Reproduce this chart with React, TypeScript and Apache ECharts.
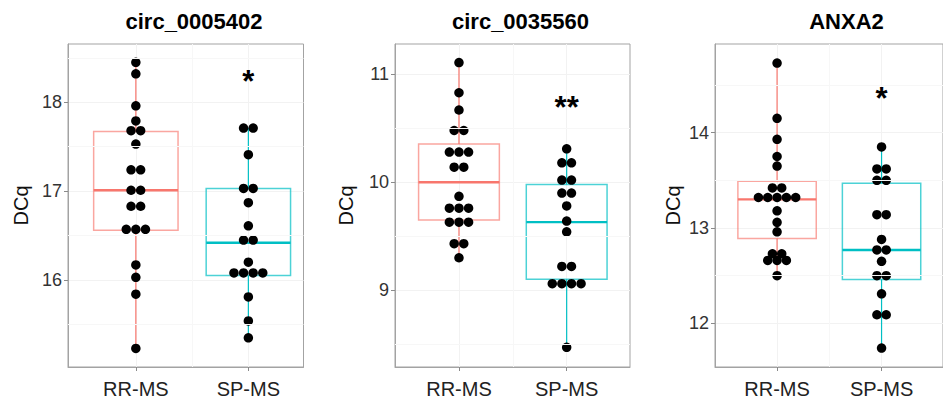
import React, { useEffect, useRef } from "react";
import * as echarts from "echarts";

// ---------- data ----------
const categories = ["RR-MS", "SP-MS"];
const titles = ["circ_0005402", "circ_0035560", "ANXA2"];
const yAxisName = "DCq";

const yTicks1 = [16, 17, 18];
const yTicks2 = [9, 10, 11];
const yTicks3 = [12, 13, 14];

// panel 1: circ_0005402
const p1RR = [18.45, 18.32, 17.96, 17.79, 17.68, 17.68, 17.53, 17.24, 17.24, 17.01, 17.01, 16.83, 16.83, 16.57, 16.57, 16.57, 16.17, 16.03, 15.84, 15.23];
const p1SP = [17.71, 17.71, 17.41, 17.03, 17.03, 16.87, 16.61, 16.45, 16.45, 16.2, 16.08, 16.08, 16.08, 16.08, 15.81, 15.54, 15.35];
// box stats [q1, median, q3]
const p1BoxRR = [16.56, 17.01, 17.67];
const p1BoxSP = [16.05, 16.42, 17.03];

// panel 2: circ_0035560
const p2RR = [11.11, 10.83, 10.67, 10.48, 10.48, 10.28, 10.28, 10.28, 10.14, 10.14, 9.87, 9.76, 9.76, 9.76, 9.63, 9.63, 9.63, 9.43, 9.43, 9.3];
const p2SP = [10.31, 10.18, 10.18, 10.02, 10.02, 9.9, 9.9, 9.78, 9.64, 9.54, 9.22, 9.22, 9.06, 9.06, 9.06, 9.06, 8.47];
const p2BoxRR = [9.65, 10.0, 10.355];
const p2BoxSP = [9.1, 9.63, 9.98];

// panel 3: ANXA2
const p3RR = [14.73, 14.15, 13.93, 13.75, 13.65, 13.42, 13.42, 13.32, 13.32, 13.32, 13.32, 13.32, 13.18, 13.06, 12.96, 12.73, 12.73, 12.66, 12.66, 12.66, 12.5];
const p3SP = [13.85, 13.62, 13.62, 13.5, 13.5, 13.14, 13.14, 12.88, 12.77, 12.77, 12.65, 12.5, 12.5, 12.31, 12.09, 12.09, 11.74];
const p3BoxRR = [12.89, 13.3, 13.49];
const p3BoxSP = [12.46, 12.77, 13.47];

const signifLabels = ["*", "**", "*"];
const signifY = [18.31, 10.76, 14.43];

// ---------- styling / layout ----------
const FONT = '"Liberation Sans", Arial, Helvetica, sans-serif';
const groupColors = ["#F8766D", "#00BFC4"];
const boxColors = ["rgba(248,118,109,0.65)", "rgba(0,191,196,0.7)"];

const layout = [
  { grid: { left: 68, top: 44, width: 235.5, height: 323 }, x: [0.397, 2.49], y: [15.021, 18.656], titleX: 189, nameGap: 37 },
  { grid: { left: 395, top: 44, width: 235, height: 323 }, x: [0.406, 2.588], y: [8.287, 11.282], titleX: 515.5, nameGap: 39 },
  { grid: { left: 715, top: 44, width: 235, height: 323 }, x: [0.406, 2.588], y: [11.542, 14.93], titleX: 841.5, nameGap: 32 },
];

const panelData = [
  { groups: [p1RR, p1SP], boxes: [p1BoxRR, p1BoxSP], ticks: yTicks1 },
  { groups: [p2RR, p2SP], boxes: [p2BoxRR, p2BoxSP], ticks: yTicks2 },
  { groups: [p3RR, p3SP], boxes: [p3BoxRR, p3BoxSP], ticks: yTicks3 },
];

const DOT_STEP_PX = 9.6;

function dotPoints(values: number[], xCenter: number, stepUnits: number) {
  const counts = new Map<number, number>();
  values.forEach((v) => counts.set(v, (counts.get(v) || 0) + 1));
  const pts: number[][] = [];
  counts.forEach((n, v) => {
    for (let i = 0; i < n; i++) {
      pts.push([xCenter + (i - (n - 1) / 2) * stepUnits, v]);
    }
  });
  return pts;
}

export default function App() {
  const ref = useRef<HTMLDivElement>(null);

  useEffect(() => {
    document.body.style.margin = "0";
    if (!ref.current) return;
    const chart = echarts.init(ref.current, undefined, { renderer: "svg" });

    const grids: any[] = [];
    const xAxes: any[] = [];
    const yAxes: any[] = [];
    const series: any[] = [];
    const titleOpts: any[] = [];

    layout.forEach((L, pi) => {
      const P = panelData[pi];
      grids.push({ ...L.grid, show: true, borderColor: "#a3a3a3", borderWidth: 1, backgroundColor: "#ffffff" });
      titleOpts.push({
        text: titles[pi],
        left: L.titleX,
        top: 5,
        textAlign: "center",
        textStyle: { fontFamily: FONT, fontSize: 22, fontWeight: "bold", color: "#000" },
      });
      const pxPerUnit = L.grid.width / (L.x[1] - L.x[0]);
      const step = DOT_STEP_PX / pxPerUnit;

      xAxes.push({
        type: "value",
        gridIndex: pi,
        min: L.x[0],
        max: L.x[1],
        axisLine: { show: true, lineStyle: { color: "#a3a3a3", width: 1 } },
        axisTick: { show: true, customValues: [1, 2], length: 4, lineStyle: { color: "#8a8a8a" } },
        axisLabel: {
          show: true,
          customValues: [1, 2],
          formatter: (v: number) => categories[Math.round(v) - 1] || "",
          fontFamily: FONT,
          fontSize: 20,
          color: "#222",
          margin: 12,
        },
        splitLine: { show: true, lineStyle: { color: "#f2f2f2", width: 1 } },
      });
      yAxes.push({
        type: "value",
        gridIndex: pi,
        min: L.y[0],
        max: L.y[1],
        name: yAxisName,
        nameLocation: "middle",
        nameGap: L.nameGap,
        nameTextStyle: { fontFamily: FONT, fontSize: 20, color: "#111" },
        axisLine: { show: true, lineStyle: { color: "#a3a3a3", width: 1 } },
        axisTick: { show: true, customValues: P.ticks, length: 4, lineStyle: { color: "#8a8a8a" } },
        axisLabel: {
          show: true,
          customValues: P.ticks,
          fontFamily: FONT,
          fontSize: 18,
          color: "#333",
          margin: 6,
        },
        splitLine: { show: true, lineStyle: { color: "#f2f2f2", width: 1 } },
      });

      // minor grid lines (halfway between ticks)
      const minorY: number[] = [];
      P.ticks.forEach((t) => {
        minorY.push(t - 0.5);
      });
      minorY.push(P.ticks[P.ticks.length - 1] + 0.5);
      series.push({
        type: "line",
        xAxisIndex: pi,
        yAxisIndex: pi,
        data: [],
        silent: true,
        markLine: {
          silent: true,
          symbol: "none",
          label: { show: false },
          lineStyle: { color: "#f7f7f7", width: 1, type: "solid" },
          data: [
            ...minorY.filter((v) => v > L.y[0] && v < L.y[1]).map((v) => ({ yAxis: v })),
            { xAxis: 1.5 },
          ],
        },
        z: 1,
      });

      // boxes
      const boxData = P.groups.map((g, gi) => {
        const b = P.boxes[gi];
        return [gi + 1, b[0], b[1], b[2], Math.min(...g), Math.max(...g), gi];
      });
      series.push({
        type: "custom",
        xAxisIndex: pi,
        yAxisIndex: pi,
        silent: true,
        z: 2,
        encode: { x: 0, y: [1, 2, 3, 4, 5] },
        data: boxData,
        renderItem: (params: any, api: any) => {
          const x = api.value(0);
          const gi = api.value(6);
          const q1 = api.coord([x, api.value(1)]);
          const med = api.coord([x, api.value(2)]);
          const q3 = api.coord([x, api.value(3)]);
          const lo = api.coord([x, api.value(4)]);
          const hi = api.coord([x, api.value(5)]);
          const w = api.size([0.75, 0])[0];
          const cx = q1[0];
          const col = groupColors[gi];
          const bcol = boxColors[gi];
          return {
            type: "group",
            children: [
              { type: "line", shape: { x1: cx, y1: hi[1], x2: cx, y2: q3[1] }, style: { stroke: col, lineWidth: 1.2 } },
              { type: "line", shape: { x1: cx, y1: q1[1], x2: cx, y2: lo[1] }, style: { stroke: col, lineWidth: 1.2 } },
              {
                type: "rect",
                shape: { x: cx - w / 2, y: q3[1], width: w, height: q1[1] - q3[1] },
                style: { fill: "rgba(255,255,255,0)", stroke: bcol, lineWidth: 1.5 },
              },
              { type: "line", shape: { x1: cx - w / 2, y1: med[1], x2: cx + w / 2, y2: med[1] }, style: { stroke: col, lineWidth: 2.4 } },
            ],
          };
        },
      });

      // dots
      P.groups.forEach((g, gi) => {
        series.push({
          type: "scatter",
          xAxisIndex: pi,
          yAxisIndex: pi,
          silent: true,
          z: 3,
          symbol: "circle",
          symbolSize: 9.5,
          itemStyle: { color: "#000", opacity: 1 },
          data: dotPoints(g, gi + 1, step),
        });
      });

      // significance marker
      series.push({
        type: "scatter",
        xAxisIndex: pi,
        yAxisIndex: pi,
        silent: true,
        z: 4,
        symbolSize: 0,
        itemStyle: { color: "#000", opacity: 1 },
        data: [[2, signifY[pi]]],
        label: {
          show: true,
          position: "inside",
          offset: [0, 7],
          formatter: signifLabels[pi],
          fontFamily: FONT,
          fontSize: 31,
          fontWeight: "bold",
          color: "#000",
          opacity: 1,
          textBorderWidth: 0,
        },
      });
    });

    chart.setOption({
      animation: false,
      backgroundColor: "#ffffff",
      title: titleOpts,
      grid: grids,
      xAxis: xAxes,
      yAxis: yAxes,
      series,
    });

    return () => chart.dispose();
  }, []);

  return <div ref={ref} style={{ width: 943, height: 403, position: "absolute", left: 0, top: 0 }} />;
}
